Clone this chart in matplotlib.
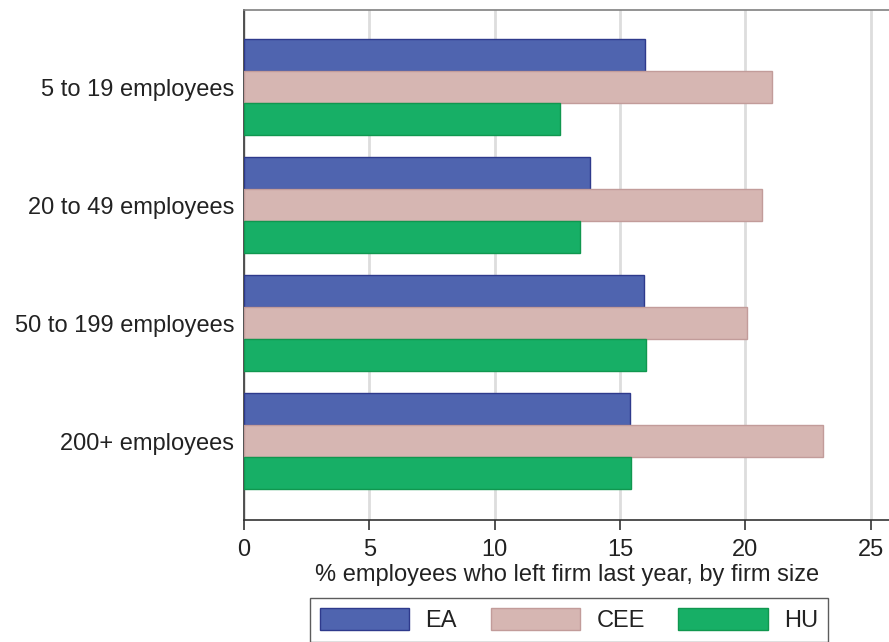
import matplotlib
matplotlib.use("Agg")
import matplotlib.pyplot as plt
import numpy as np

plt.rcParams['font.family'] = ['Liberation Sans', 'DejaVu Sans']

categories = ["5 to 19 employees", "20 to 49 employees", "50 to 199 employees", "200+ employees"]
series_names = ["EA", "CEE", "HU"]
ea = [16.0, 13.8, 15.95, 15.4]
cee = [21.05, 20.65, 20.05, 23.1]
hu = [12.6, 13.4, 16.05, 15.42]
values = [ea, cee, hu]
x_ticks = [0, 5, 10, 15, 20, 25]

fills = ["#4F64AF", "#D6B6B2", "#17AF66"]
edges = ["#2E3A8C", "#C29C9A", "#10974F"]

FS = 17

fig = plt.figure(figsize=(8.89, 6.42), dpi=100)
ax = fig.add_axes([244/889, 1 - 520/642, 1 - 244/889 + 0.002, (520 - 10)/642])

y = np.arange(len(categories))
h = 0.271
for i, (name, vals) in enumerate(zip(series_names, values)):
    ax.barh(y + (i - 1) * h, vals, height=h, color=fills[i], edgecolor=edges[i],
            linewidth=1.0, label=name, zorder=3)

ax.set_ylim(3.667, -0.653)
ax.set_xlim(0, 25.8)
ax.set_yticks(y)
ax.set_yticklabels(categories, fontsize=FS, color="#222222")
ax.set_xticks(x_ticks)
ax.set_xticklabels([str(t) for t in x_ticks], fontsize=FS, color="#222222")
ax.tick_params(axis='y', length=0, pad=7)
ax.tick_params(axis='x', length=7, width=1.2, color="#333333", pad=6.5)
ax.xaxis.grid(True, color="#DDDDDD", linewidth=2, zorder=0)
ax.set_axisbelow(True)

ax.spines['right'].set_visible(False)
ax.spines['top'].set_color("#808080")
ax.spines['top'].set_linewidth(1.2)
ax.spines['left'].set_color("#333333")
ax.spines['left'].set_linewidth(1.2)
ax.spines['bottom'].set_color("#333333")
ax.spines['bottom'].set_linewidth(1.2)

ax.set_xlabel("% employees who left firm last year, by firm size", fontsize=FS,
              color="#222222", labelpad=2)

leg = fig.legend(loc='upper center', bbox_to_anchor=(569/889, 1 - 598/642), ncol=3,
                 fontsize=FS, frameon=True, fancybox=False, handlelength=3.8,
                 handleheight=1.04, handletextpad=0.68, columnspacing=1.42,
                 borderpad=0.42, borderaxespad=0)
leg.get_frame().set_edgecolor("#333333")
leg.get_frame().set_linewidth(1.0)
for t in leg.get_texts():
    t.set_color("#222222")

fig.savefig("out.png", dpi=100)
